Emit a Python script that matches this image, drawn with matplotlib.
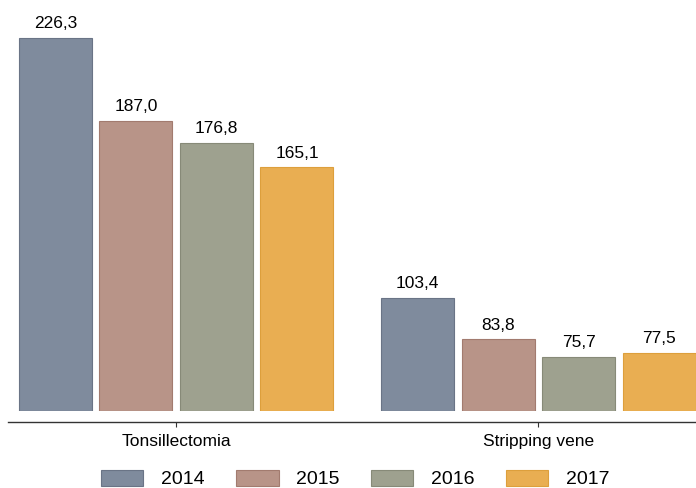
import matplotlib
matplotlib.use('Agg')
import matplotlib.pyplot as plt

plt.rcParams['font.family'] = ['Liberation Sans', 'DejaVu Sans']

# dati
gruppi = ["Tonsillectomia", "Stripping vene"]
anni = ["2014", "2015", "2016", "2017"]
valori = {
    "2014": [226.3, 103.4],
    "2015": [187.0, 83.8],
    "2016": [176.8, 75.7],
    "2017": [165.1, 77.5],
}
colori = ["#7f8b9d", "#b89488", "#9ea18f", "#e9ae52"]
bordi = ["#6a7486", "#a27b6f", "#878a78", "#dd9f3c"]
base = 50

fig = plt.figure(figsize=(6.96, 4.88), dpi=100)
ax = fig.add_axes([8 / 696, 77 / 488, 688 / 696, 391 / 488])

for i, anno in enumerate(anni):
    xs = [i + 4.5 * g for g in range(len(gruppi))]
    alt = [v - base for v in valori[anno]]
    ax.bar(xs, alt, bottom=base, width=0.907, color=colori[i],
           edgecolor=bordi[i], linewidth=0.8, label=anno)
    for x, v in zip(xs, valori[anno]):
        ax.annotate(f"{v:.1f}".replace(".", ","), (x, v), xytext=(0, 5),
                    textcoords="offset points", ha="center", va="bottom",
                    fontsize=12.5)

ax.set_xlim(-0.59, 7.957)
ax.set_ylim(base, base + 391 / 2.116)
ax.set_xticks([1.5, 6.0])
ax.set_xticklabels(gruppi)
ax.set_yticks([])
for s in ["top", "right", "left"]:
    ax.spines[s].set_visible(False)
ax.spines["bottom"].set_position(("outward", 8))
ax.spines["bottom"].set_color("#333333")
ax.spines["bottom"].set_linewidth(1.0)
ax.tick_params(axis="x", length=3.5, width=0.8, color="#333333", pad=5,
               labelsize=12.5)

fig.legend(loc="center", bbox_to_anchor=(355 / 696, 9 / 488), ncol=4,
           frameon=False, fontsize=14, handlelength=2.2, handleheight=0.9,
           handletextpad=0.9, columnspacing=1.6, borderpad=0.2)

plt.savefig("out.png", dpi=100)
